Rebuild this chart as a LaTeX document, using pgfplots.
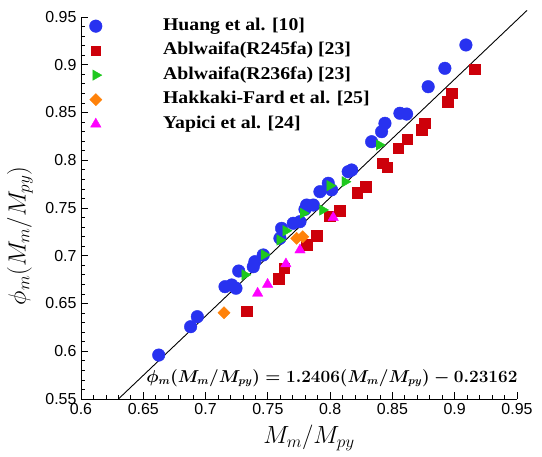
\documentclass[border=0pt]{standalone}
\usepackage{pgfplots}
\pgfplotsset{compat=1.18}
\usepackage{fontspec}
\setmainfont{Liberation Serif}
\newfontfamily\sansf{Liberation Sans}
\newfontfamily\legf{Liberation Serif}[FakeStretch=1.1]
\definecolor{cblue}{RGB}{40,50,240}
\definecolor{cred}{RGB}{205,0,10}
\definecolor{cgreen}{RGB}{30,200,30}
\definecolor{corange}{RGB}{255,130,10}
\definecolor{cmag}{RGB}{255,0,255}
\begin{document}
\begin{tikzpicture}
\begin{axis}[
  scale only axis,
  width=436bp, height=382bp,
  xmin=0.6, xmax=0.95, ymin=0.55, ymax=0.95,
  axis x line*=bottom, axis y line*=left,
  clip=false,
  tick align=inside,
  xtick={0.6,0.65,...,0.951}, ytick={0.55,0.6,...,0.951},
  minor tick num=4,
  major tick length=7bp, minor tick length=4bp,
  tick style={black, line width=0.8pt},
  axis line style={black, line width=0.9pt},
  /pgf/number format/assume math mode=true,
  /pgf/number format/fixed, /pgf/number format/precision=2,
  tick label style={font=\sansf\fontsize{16}{16}\selectfont},
  xticklabel style={yshift=-1bp},
  yticklabel style={xshift=-1bp},
  xlabel={$M_m/M_{py}$},
  ylabel={$\phi_m(M_m/M_{py})$},
  xlabel style={font=\fontsize{24}{24}\selectfont, at={(axis description cs:0.523,-0.102)}, anchor=center},
  ylabel style={font=\fontsize{25}{25}\selectfont, at={(axis description cs:-0.14,0.427)}, anchor=center},
  legend cell align=left,
  legend style={draw=none, fill=none, at={(0.0195,0.997)}, anchor=north west,
    inner sep=0pt, outer sep=0pt, row sep=8.5bp,
    font=\legf\bfseries\fontsize{18}{18}\selectfont,
    nodes={inner sep=0pt, text height=12bp, text depth=4bp},
    /tikz/every odd column/.append style={column sep=61bp}},
]
\addplot[only marks, mark=*, mark size=6.3bp, color=cblue, mark options={fill=cblue, draw=cblue}] coordinates {
(0.6624,0.5960) (0.6880,0.6257) (0.6934,0.6362) (0.7156,0.6676) (0.7210,0.6694)
(0.7244,0.6660) (0.7266,0.6840) (0.7383,0.6885) (0.7396,0.6938) (0.7463,0.7008)
(0.7597,0.7183) (0.7610,0.7287) (0.7704,0.7340) (0.7758,0.7357) (0.7798,0.7486)
(0.7811,0.7531) (0.7865,0.7531) (0.7918,0.7671) (0.7985,0.7759) (0.8012,0.7690)
(0.8145,0.7880) (0.8173,0.7898) (0.8333,0.8194) (0.8413,0.8299) (0.8440,0.8387)
(0.8560,0.8492) (0.8614,0.8484) (0.8787,0.8770) (0.8921,0.8963) (0.9090,0.9207)
};
\addlegendentry{Huang et al. [10]}
\addplot[only marks, mark=square*, mark size=5.3bp, color=cred, mark options={fill=cred, draw=cred}, legend image post style={mark size=4.5bp}] coordinates {
(0.7330,0.6420) (0.7587,0.6757) (0.7632,0.6869) (0.7811,0.7113) (0.7892,0.7207)
(0.7998,0.7416) (0.8079,0.7472) (0.8217,0.7660) (0.8287,0.7723) (0.8421,0.7968)
(0.8458,0.7926) (0.8547,0.8125) (0.8619,0.8220) (0.8734,0.8317) (0.8761,0.8387)
(0.8943,0.8613) (0.8975,0.8701) (0.9162,0.8952)
};
\addlegendentry{Ablwaifa(R245fa) [23]}
\addplot[only marks, mark=triangle*, mark size=6bp, color=cgreen, mark options={fill=cgreen, draw=cgreen, rotate=-90}] coordinates {
(0.7316,0.6800) (0.7470,0.7010) (0.7597,0.7165) (0.7645,0.7262) (0.7784,0.7445)
(0.7940,0.7479) (0.7998,0.7734) (0.8119,0.7775) (0.8394,0.8160)
};
\addlegendentry{Ablwaifa(R236fa) [23]}
\addplot[only marks, mark=square*, mark size=4.3bp, color=corange, mark options={fill=corange, draw=corange, rotate=45}] coordinates {
(0.7148,0.6404) (0.7731,0.7183) (0.7780,0.7199)
};
\addlegendentry{Hakkaki-Fard et al. [25]}
\addplot[only marks, mark=triangle*, mark size=6bp, color=cmag, mark options={fill=cmag, draw=cmag}] coordinates {
(0.7418,0.6607) (0.7498,0.6700) (0.7645,0.6914) (0.7758,0.7060) (0.8025,0.7400)
};
\addlegendentry{Yapici et al. [24]}
\addplot[black, line width=0.9pt, no marks, forget plot] coordinates {(0.6300,0.54996) (0.9580,0.95687)};
\node[font=\fontsize{16}{16}\selectfont\boldmath] at (axis cs:0.8014,0.572) {$\phi_m(M_m/M_{py})=1.2406(M_m/M_{py})-0.23162$};
\end{axis}
\path (0,0) ++(-81bp,-58bp) rectangle ++(542bp,457bp);
\end{tikzpicture}
\end{document}
